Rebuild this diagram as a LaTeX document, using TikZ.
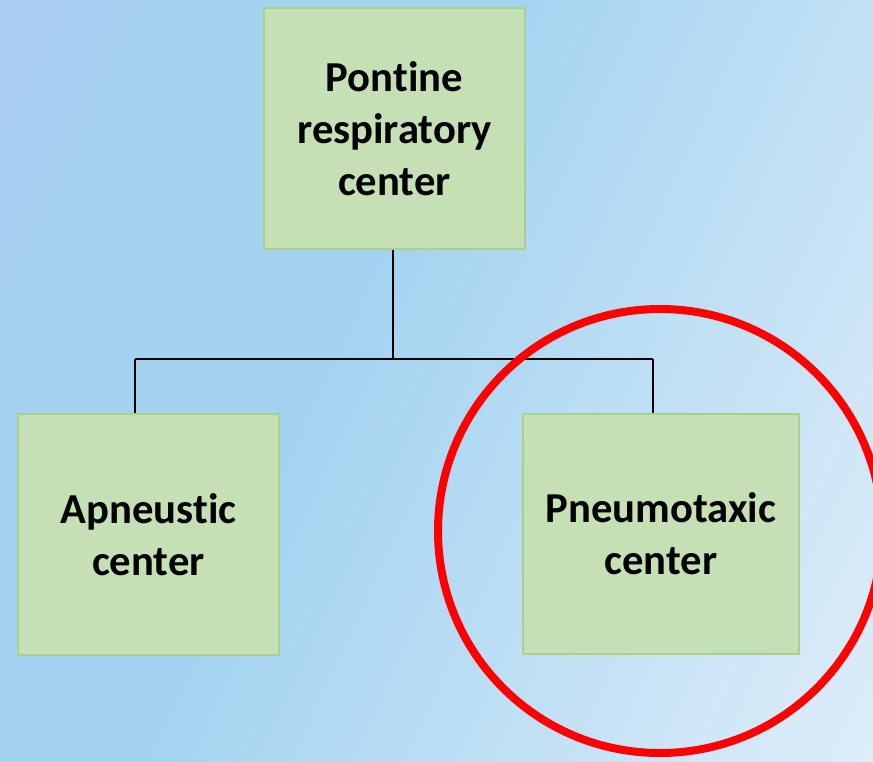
\documentclass[tikz,border=0pt]{standalone}
\usepackage{fontspec}
\setmainfont{Carlito}[Ligatures=CommonOff]
\definecolor{bgA}{RGB}{172,205,243}
\definecolor{bgB}{RGB}{163,211,240}
\definecolor{bgC}{RGB}{222,237,249}
\definecolor{boxfill}{RGB}{197,224,180}
\definecolor{boxline}{RGB}{169,209,142}
\definecolor{ring}{RGB}{255,0,0}
% backdrop ramp: the path spans 25bp..75bp of the shading
\pgfdeclarehorizontalshading{backdrop}{100bp}{%
  color(0bp)=(bgA); color(25bp)=(bgA); color(35bp)=(bgB);
  color(45bp)=(bgB); color(75bp)=(bgC); color(100bp)=(bgC)}
\tikzset{
  centerbox/.style={draw=boxline, fill=boxfill, line width=1.5pt,
    align=center, inner sep=0pt,
    font=\fontsize{32}{39}\selectfont\bfseries},
  link/.style={draw=black, line width=0.8pt},
}
\begin{document}
\begin{tikzpicture}[x=0.75pt, y=-0.75pt]
  \useasboundingbox (0,0) rectangle (873,761);
  \clip (0,0) rectangle (873,761);
  % ramp tilted so it runs from the top-left corner to the bottom-right one
  \begin{scope}[transform canvas={rotate around={-25:(436.5,380.5)}}]
    \shade[shading=backdrop] (-120,-219.5) rectangle (993,980.5);
  \end{scope}

  \node[centerbox, minimum width=195.75pt, minimum height=180.75pt]
    (top) at (394.5,128.5) {Pontine\\respiratory\\center};
  \node[centerbox, minimum width=195.75pt, minimum height=180.75pt]
    (apn) at (148.5,534.5) {Apneustic\\center};
  \node[centerbox, minimum width=207pt, minimum height=180pt]
    (pnx) at (661,534) {Pneumotaxic\\center};

  % tree connector
  \coordinate (hub) at (393,359);
  \coordinate (hubL) at (135,359);
  \coordinate (hubR) at (653,359);
  \draw[link] (top.south -| hub) -- (hub);
  \draw[link] (hubL) -- (hubR);
  \draw[link] (hubL) -- (hubL |- apn.north);
  \draw[link] (hubR) -- (hubR |- pnx.north);

  % highlight ring
  \node[draw=ring, line width=6pt, circle, minimum size=333pt, inner sep=0pt]
    (hl) at (660,531) {};
\end{tikzpicture}
\end{document}
